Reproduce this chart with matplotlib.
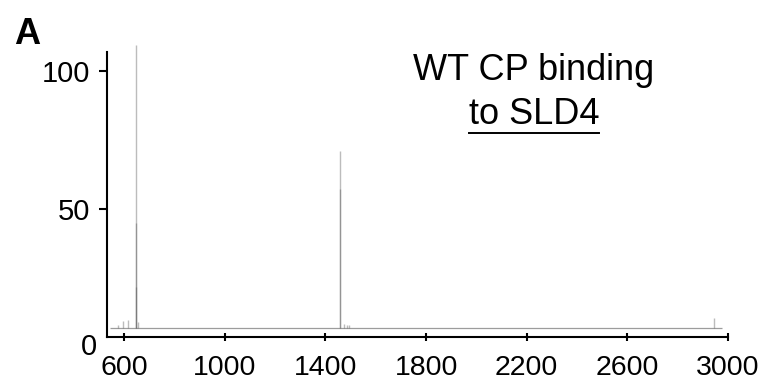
import matplotlib
matplotlib.use("Agg")
import matplotlib.pyplot as plt
from matplotlib.lines import Line2D

plt.rcParams['font.family'] = ['Liberation Sans', 'DejaVu Sans']

# m/z of spectrum sticks and their relative intensity (%)
# overlapping sticks at the same m/z stack up the darker lower parts
peak_mz = [576, 597, 615, 646, 646, 646, 657, 1459, 1459, 1475, 1485, 1494, 2946]
peak_int = [8.0, 9.5, 9.8, 109.4, 45.0, 21.7, 9.2, 71.1, 57.2, 8.3, 7.8, 8.0, 10.5]

baseline_level = 6.8
baseline_range = (544, 2975)

x_ticks = [600, 1000, 1400, 1800, 2200, 2600, 3000]
y_ticks = [50, 100]

fig = plt.figure(figsize=(7.7, 3.83), dpi=100)
ax = fig.add_axes([0.139, 0.1201, 0.8065, 0.7441])

# baseline noise floor
ax.hlines(baseline_level, baseline_range[0], baseline_range[1], color='0.45', lw=0.9, alpha=0.7)

# stick spectrum
ax.vlines(peak_mz, baseline_level, peak_int, color='0.35', lw=1.0, alpha=0.4, clip_on=False)

ax.set_xlim(532, 3000)
ax.set_ylim(3.6, 106.9)
ax.set_xticks(x_ticks)
ax.set_yticks(y_ticks)

for s in ['top', 'right']:
    ax.spines[s].set_visible(False)
for s in ['left', 'bottom']:
    ax.spines[s].set_linewidth(1.5)

ax.tick_params(axis='x', direction='inout', length=6, width=1.5, labelsize=20.5, pad=10)
ax.tick_params(axis='y', direction='out', length=6, width=1.5, labelsize=21, pad=6)

# zero label sits just below the corner
ax.text(-0.016, 0, '0', transform=ax.get_yaxis_transform(), ha='right', va='center',
        fontsize=21, clip_on=False)

fig.text(0.018, 0.955, 'A', fontsize=26, fontweight='bold', va='top', ha='left')

cx = 534 / 770
fig.text(cx, 1 - 70 / 383, 'WT CP binding', fontsize=26, ha='center', va='center')
t2 = fig.text(cx, 1 - 114 / 383, 'to SLD4', fontsize=26, ha='center', va='center')

# underline under the second title line
fig.canvas.draw()
bb = t2.get_window_extent()
uy = 1 - 133 / 383
fig.add_artist(Line2D([bb.x0 / fig.bbox.width, bb.x1 / fig.bbox.width], [uy, uy],
                      transform=fig.transFigure, color='black', lw=1.4))

fig.savefig('out.png', dpi=100)
